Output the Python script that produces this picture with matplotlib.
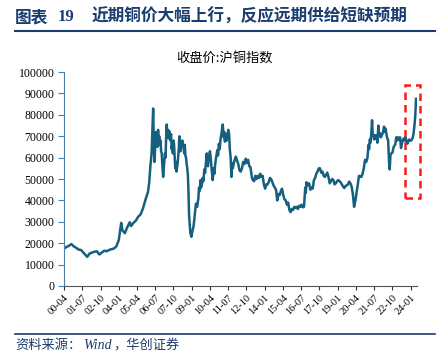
import numpy as np
import pandas as pd
import matplotlib.pyplot as plt
from matplotlib.patches import Rectangle
from matplotlib.lines import Line2D

plt.rcParams['font.family'] = ['Liberation Serif', 'Noto Sans CJK SC']

# Data: SHFE copper index close
dates = ['2000-04-01', '2000-06-01', '2000-08-01', '2000-10-01', '2000-12-01', '2001-02-01',
         '2001-04-01', '2001-06-01', '2001-08-01', '2001-10-01', '2001-11-01', '2002-01-01',
         '2002-03-01', '2002-05-01', '2002-07-01', '2002-09-01', '2002-11-01', '2003-01-01',
         '2003-03-01', '2003-05-01', '2003-07-01', '2003-09-01', '2003-11-01', '2004-01-01',
         '2004-03-01', '2004-04-01', '2004-06-01', '2004-08-01', '2004-10-01', '2004-11-01',
         '2005-01-01', '2005-03-01', '2005-05-01', '2005-07-01', '2005-09-01', '2005-11-01',
         '2006-01-01', '2006-02-01', '2006-03-01', '2006-04-01', '2006-04-15', '2006-05-10',
         '2006-05-25', '2006-06-10', '2006-06-25', '2006-07-10', '2006-07-25', '2006-08-10',
         '2006-08-25', '2006-09-10', '2006-09-25', '2006-10-10', '2006-10-25', '2006-11-10',
         '2006-11-25', '2006-12-10', '2006-12-25', '2007-01-15', '2007-02-01', '2007-02-15',
         '2007-03-01', '2007-03-15', '2007-04-01', '2007-04-15', '2007-05-01', '2007-05-15',
         '2007-06-01', '2007-06-15', '2007-07-01', '2007-07-15', '2007-08-01', '2007-08-15',
         '2007-09-01', '2007-09-15', '2007-10-01', '2007-10-15', '2007-11-01', '2007-11-15',
         '2007-12-01', '2007-12-15', '2008-01-10', '2008-01-25', '2008-02-10', '2008-02-25',
         '2008-03-10', '2008-03-25', '2008-04-10', '2008-04-25', '2008-05-10', '2008-05-25',
         '2008-06-10', '2008-06-25', '2008-07-10', '2008-07-25', '2008-08-10', '2008-08-25',
         '2008-09-10', '2008-09-25', '2008-10-10', '2008-10-25', '2008-11-10', '2008-11-25',
         '2008-12-20', '2009-01-15', '2009-02-15', '2009-03-15', '2009-04-15', '2009-05-15',
         '2009-06-15', '2009-07-01', '2009-07-20', '2009-08-05', '2009-08-20', '2009-09-10',
         '2009-10-01', '2009-10-20', '2009-11-10', '2009-12-01', '2010-01-10', '2010-01-25',
         '2010-02-10', '2010-03-01', '2010-04-01', '2010-04-20', '2010-05-15', '2010-06-10',
         '2010-07-01', '2010-07-20', '2010-08-10', '2010-09-01', '2010-10-01', '2010-10-20',
         '2010-11-10', '2010-12-01', '2010-12-20', '2011-01-15', '2011-02-15', '2011-03-10',
         '2011-03-25', '2011-04-10', '2011-05-01', '2011-05-20', '2011-06-10', '2011-07-01',
         '2011-07-25', '2011-08-10', '2011-09-01', '2011-09-20', '2011-10-05', '2011-10-25',
         '2011-11-15', '2011-12-10', '2012-01-10', '2012-02-10', '2012-03-10', '2012-04-10',
         '2012-05-10', '2012-06-10', '2012-07-10', '2012-08-10', '2012-09-10', '2012-10-10',
         '2012-11-10', '2012-12-10', '2013-01-10', '2013-02-10', '2013-03-10', '2013-04-10',
         '2013-05-10', '2013-06-10', '2013-07-10', '2013-08-10', '2013-09-10', '2013-10-10',
         '2013-11-10', '2013-12-10', '2014-01-10', '2014-02-10', '2014-03-10', '2014-04-10',
         '2014-05-10', '2014-06-10', '2014-07-10', '2014-08-10', '2014-09-10', '2014-10-10',
         '2014-11-10', '2014-12-10', '2015-01-10', '2015-02-10', '2015-03-10', '2015-04-10',
         '2015-05-10', '2015-06-10', '2015-07-10', '2015-08-10', '2015-09-10', '2015-10-10',
         '2015-11-10', '2015-12-10', '2016-01-10', '2016-02-10', '2016-03-10', '2016-04-10',
         '2016-05-10', '2016-06-10', '2016-07-10', '2016-08-10', '2016-09-10', '2016-10-10',
         '2016-10-25', '2016-11-10', '2016-11-25', '2016-12-15', '2017-01-15', '2017-02-15',
         '2017-03-15', '2017-04-15', '2017-05-15', '2017-06-15', '2017-07-15', '2017-08-15',
         '2017-09-15', '2017-10-15', '2017-11-15', '2017-12-15', '2018-01-15', '2018-02-15',
         '2018-03-15', '2018-04-15', '2018-05-15', '2018-06-15', '2018-07-15', '2018-08-15',
         '2018-09-15', '2018-10-15', '2018-11-15', '2018-12-15', '2019-01-15', '2019-02-15',
         '2019-03-15', '2019-04-15', '2019-05-15', '2019-06-15', '2019-07-15', '2019-08-15',
         '2019-09-15', '2019-10-15', '2019-11-15', '2019-12-15', '2020-01-15', '2020-02-15',
         '2020-03-20', '2020-04-15', '2020-05-15', '2020-06-15', '2020-07-15', '2020-08-15',
         '2020-09-15', '2020-10-15', '2020-11-15', '2020-12-15', '2021-01-15', '2021-02-10',
         '2021-02-25', '2021-03-15', '2021-04-01', '2021-04-20', '2021-05-10', '2021-05-25',
         '2021-06-15', '2021-07-01', '2021-07-20', '2021-08-10', '2021-09-01', '2021-09-20',
         '2021-10-15', '2021-11-01', '2021-11-20', '2021-12-10', '2022-01-01', '2022-01-20',
         '2022-02-10', '2022-03-05', '2022-03-25', '2022-04-15', '2022-05-05', '2022-05-25',
         '2022-06-15', '2022-07-10', '2022-07-25', '2022-08-15', '2022-09-10', '2022-10-05',
         '2022-10-25', '2022-11-15', '2022-12-10', '2023-01-05', '2023-01-25', '2023-02-20',
         '2023-03-15', '2023-04-10', '2023-05-05', '2023-05-25', '2023-06-15', '2023-07-10',
         '2023-08-01', '2023-08-25', '2023-09-15', '2023-10-10', '2023-11-01', '2023-11-25',
         '2023-12-15', '2024-01-10', '2024-02-01', '2024-02-25', '2024-03-15', '2024-04-05',
         '2024-04-25', '2024-05-15']
close = [17500, 18200, 18800, 19600, 18500, 17800,
         17000, 16800, 15500, 14200, 13600, 15200,
         15600, 16000, 16200, 14700, 15600, 16500,
         16200, 16800, 17200, 17500, 18500, 21500,
         29500, 26000, 24700, 27500, 29800, 28000,
         29500, 30500, 32400, 33500, 36500, 40500,
         44000, 48500, 56000, 62000, 70000, 83000,
         68000, 58000, 63000, 72000, 67000, 70000,
         65000, 73000, 68000, 70000, 66000, 68000,
         63000, 62000, 57000, 51000, 55000, 58000,
         62000, 60000, 70000, 75500, 70000, 73000,
         69000, 72500, 70000, 68000, 71000, 64000,
         66000, 62000, 68000, 66000, 60000, 55000,
         58000, 53500, 57000, 60000, 64000, 70000,
         66000, 63000, 67000, 65000, 68000, 66000,
         64500, 62000, 66000, 61000, 60000, 57000,
         55000, 52000, 44000, 33000, 29000, 25000,
         23000, 25500, 28000, 33000, 38500, 37000,
         41000, 46000, 44500, 49500, 46000, 47500,
         50500, 49000, 54500, 53000, 62000, 58000,
         56000, 60500, 63000, 60000, 54000, 49500,
         55000, 52500, 57000, 60000, 63500, 61000,
         66500, 64000, 68500, 71500, 75500, 69500,
         72000, 67500, 71000, 68000, 70000, 73000,
         71000, 64000, 60000, 51000, 57500, 55000,
         57000, 59000, 60500, 58500, 57000, 54000,
         53500, 55000, 58000, 57000, 59500, 57500,
         59000, 56000, 55500, 51000, 49500, 49000,
         51500, 50000, 51500, 50500, 52500, 51000,
         51500, 47500, 45500, 47500, 47500, 48500,
         50500, 50000, 48500, 47000, 46000, 45000,
         40000, 43000, 42500, 44500, 45500, 42500,
         40500, 40000, 38000, 39000, 35500, 34500,
         36000, 35500, 37000, 36500, 37000, 36000,
         37500, 37000, 38000, 36800, 37000, 46000,
         43500, 48500, 47000, 47500, 48000, 45000,
         46000, 45500, 49500, 50500, 52500, 53500,
         55000, 55000, 53000, 53500, 51500, 51000,
         52000, 53000, 51000, 48000, 49000, 50000,
         49500, 47500, 48000, 49000, 49500, 49000,
         48500, 47500, 46500, 45800, 46800, 47000,
         47500, 48800, 48000, 46500, 43000, 37000,
         40000, 43500, 47000, 51500, 51000, 51000,
         52500, 55000, 59000, 58000, 60000, 66000,
         64000, 68500, 67000, 71000, 77500, 71500,
         70000, 68500, 70500, 69000, 70500, 67000,
         75000, 70500, 71500, 69500, 70000, 71000,
         72000, 74500, 72000, 73500, 71000, 69000,
         68500, 58000, 54500, 61500, 62000, 62500,
         64500, 65500, 66000, 69500, 68000, 69500,
         68500, 69500, 64500, 66500, 68000, 69000,
         68000, 69500, 68000, 66500, 67500, 68500,
         68000, 68000, 68500, 69500, 71500, 75000,
         79500, 87500]

tick_dates = pd.date_range('2000-04-01', periods=20, freq='15MS')
tick_labels = [d.strftime('%y-%m') for d in tick_dates]
yticks = np.arange(0, 100001, 10000)

# highlight box (recent period)
box_x = ['2023-08-01', '2024-09-01']
box_y = [41000, 94000]

df = pd.DataFrame({'date': pd.to_datetime(dates), 'close': close})

fig = plt.figure(figsize=(4.48, 3.57), dpi=100)
ax = fig.add_axes([0.143, 0.199, 0.788, 0.599])

ax.plot(df.date, df.close, color='#16607f', lw=1.8)

ax.set_xlim(pd.Timestamp('2000-04-01'), pd.Timestamp('2024-06-10'))
ax.set_ylim(0, 100000)
ax.set_xticks(tick_dates)
ax.set_xticklabels(tick_labels, rotation=45, ha='right', rotation_mode='anchor',
                   fontsize=7.5, family='Liberation Serif')
ax.set_yticks(yticks)
ax.set_yticklabels([str(v) for v in yticks], fontsize=8.5, family='Liberation Serif')
ax.tick_params(axis='x', length=3, width=0.8, color='#333333', pad=2)
ax.tick_params(axis='y', length=4, width=0.8, color='#4a80a8', pad=3)

for s in ['top', 'right']:
    ax.spines[s].set_visible(False)
ax.spines['left'].set_color('#4a80a8')
ax.spines['bottom'].set_color('#555555')

# red dashed box
x0 = pd.Timestamp(box_x[0])
x1 = pd.Timestamp(box_x[1])
rect = Rectangle((x0, box_y[0]), x1 - x0, box_y[1] - box_y[0], fill=False,
                 ec='#ff1a1a', lw=1.8, ls=(0, (3, 2)), clip_on=False)
ax.add_patch(rect)

# chart title
fig.text(0.5, 0.838, '收盘价:沪铜指数', ha='center', va='center', fontsize=9.5,
         family=['Noto Sans CJK SC'])

# header and footer
fig.text(0.034, 0.952, '图表', fontsize=12, weight='bold', color='#1a3c6e',
         va='center', family=['Noto Sans CJK SC'])
fig.text(0.128, 0.952, '19', fontsize=12, weight='bold', color='#1a3c6e',
         va='center', family=['Liberation Serif'])
fig.text(0.205, 0.952, '近期铜价大幅上行，反应远期供给短缺预期', fontsize=12,
         weight='bold', color='#1a3c6e', va='center', family=['Noto Sans CJK SC'])
fig.add_artist(Line2D([0.034, 0.971], [0.913, 0.913], color='#1a3c6e', lw=1.5))
fig.add_artist(Line2D([0.034, 0.971], [0.064, 0.064], color='#1a3c6e', lw=1.2))
fig.text(0.034, 0.015, '资料来源：', fontsize=9.5, style='italic',
         color='#1a3c6e', va='bottom', family=['Noto Sans CJK SC'])
fig.text(0.185, 0.015, 'Wind', fontsize=10, style='italic',
         color='#1a3c6e', va='bottom', family=['Liberation Serif'])
fig.text(0.252, 0.015, '，华创证券', fontsize=9.5, style='italic',
         color='#1a3c6e', va='bottom', family=['Noto Sans CJK SC'])

fig.savefig('out.png', dpi=100)
